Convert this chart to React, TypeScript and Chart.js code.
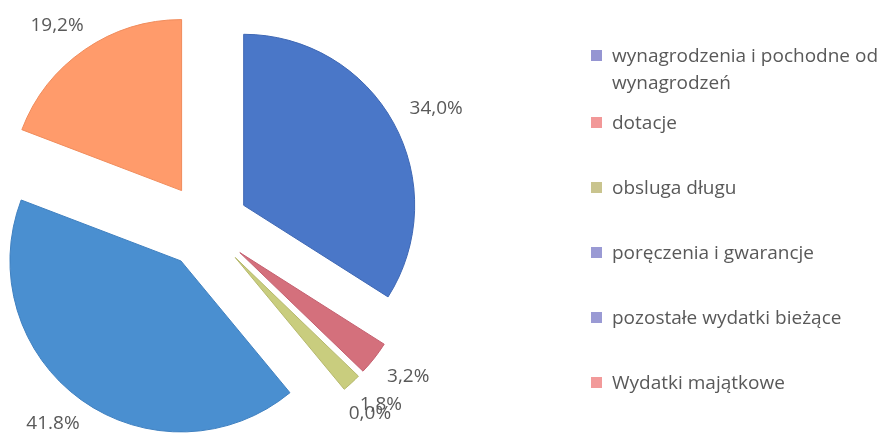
import React, { useEffect, useRef } from "react";
import { Chart, registerables } from "chart.js";

Chart.register(...registerables);

const categories = [
  "wynagrodzenia i pochodne od wynagrodzeń",
  "dotacje",
  "obsluga długu",
  "poręczenia i gwarancje",
  "pozostałe wydatki bieżące",
  "Wydatki majątkowe",
];
const shares = [34.0, 3.2, 1.8, 0.0, 41.8, 19.2];
const shareLabels = ["34,0%", "3,2%", "1,8%", "0,0%", "41.8%", "19,2%"];
const sliceColors = ["#4A77C8", "#D4707C", "#C9CD7E", "#8E8ED0", "#4A8FD0", "#FF9B6B"];
const sliceBorders = ["#3F68B4", "#C46070", "#B5B86C", "#7E7EC0", "#3F80C0", "#F08C5C"];
const legendColors = ["#9595D2", "#F29898", "#C9C48E", "#9A9AD4", "#9A9AD4", "#F29A9A"];

const EXPLODE = 43;
const LABEL_GAP = 22;
const LABEL_HEIGHT = 14;
const TEXT_COLOR = "#595959";
const FONT = "'Open Sans', 'Noto Sans', sans-serif";

const explodePlugin = {
  id: "explode",
  afterDatasetUpdate(chart: any, args: any) {
    const meta = chart.getDatasetMeta(args.index);
    meta.data.forEach((el: any) => {
      const mid = (el.startAngle + el.endAngle) / 2;
      el.x += Math.cos(mid) * EXPLODE;
      el.y += Math.sin(mid) * EXPLODE;
    });
  },
};

const labelPlugin = {
  id: "sliceLabels",
  afterDatasetsDraw(chart: any) {
    const ctx = chart.ctx;
    const meta = chart.getDatasetMeta(0);
    ctx.save();
    ctx.font = `19px ${FONT}`;
    ctx.fillStyle = TEXT_COLOR;
    ctx.textAlign = "center";
    ctx.textBaseline = "middle";
    meta.data.forEach((el: any, i: number) => {
      const mid = (el.startAngle + el.endAngle) / 2;
      const c = Math.cos(mid);
      const s = Math.sin(mid);
      const r = el.outerRadius + LABEL_GAP;
      const w = ctx.measureText(shareLabels[i]).width;
      const x = el.x + c * r + (c * w) / 2;
      const y = el.y + s * r + (s * LABEL_HEIGHT) / 2;
      ctx.fillText(shareLabels[i], x, y);
    });
    ctx.restore();
  },
};

export default function App() {
  const canvasRef = useRef<HTMLCanvasElement | null>(null);

  useEffect(() => {
    if (!canvasRef.current) return;
    const chart = new Chart(canvasRef.current, {
      type: "pie",
      data: {
        labels: categories,
        datasets: [
          {
            data: shares,
            backgroundColor: sliceColors,
            borderColor: sliceBorders,
            borderWidth: 1,
            radius: 171,
          } as any,
        ],
      },
      options: {
        responsive: false,
        animation: false,
        radius: 171,
        layout: { padding: { left: 0, right: 473, top: 18, bottom: 0 } },
        plugins: {
          legend: { display: false },
          tooltip: { enabled: false },
        },
      } as any,
      plugins: [explodePlugin, labelPlugin],
    });
    return () => chart.destroy();
  }, []);

  return (
    <div
      style={{
        position: "fixed",
        left: 0,
        top: 0,
        width: 885,
        height: 434,
        background: "#fff",
        overflow: "hidden",
      }}
    >
      <canvas
        ref={canvasRef}
        width={885}
        height={434}
        style={{ position: "absolute", left: 0, top: 0, width: 885, height: 434 }}
      />
      <div
        style={{
          position: "absolute",
          left: 591,
          top: 41.5,
          width: 292,
          fontFamily: FONT,
          fontSize: 19,
          lineHeight: "27px",
          color: TEXT_COLOR,
        }}
      >
        {categories.map((c, i) => (
          <div
            key={c}
            style={{
              display: "flex",
              alignItems: "flex-start",
              marginTop: i === 0 ? 0 : i === 1 ? 13 : 38,
            }}
          >
            <span
              style={{
                display: "inline-block",
                width: 11,
                height: 11,
                marginTop: 8,
                marginRight: 10,
                flex: "0 0 auto",
                background: legendColors[i],
              }}
            />
            <span style={{ width: 271 }}>{c}</span>
          </div>
        ))}
      </div>
    </div>
  );
}
